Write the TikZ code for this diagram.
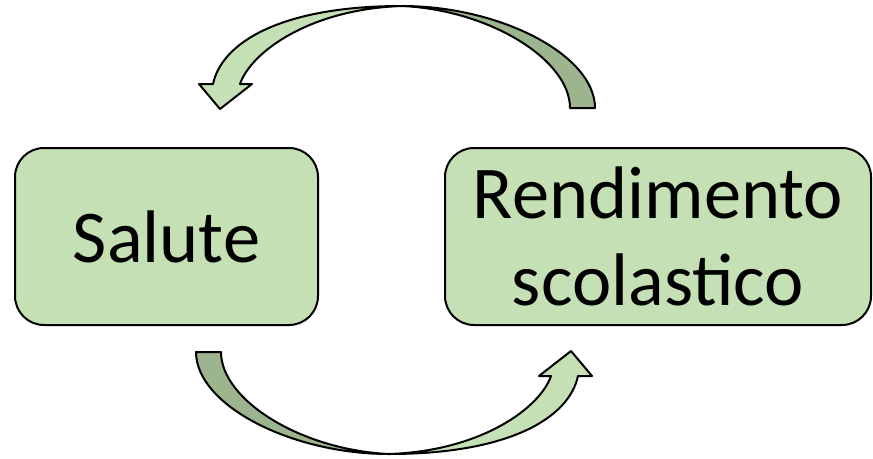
\documentclass[tikz,border=0pt]{standalone}
\usepackage{fontspec}
\setmainfont{Carlito}
\definecolor{boxgreen}{RGB}{197,224,180}
\definecolor{backgreen}{RGB}{157,181,142}
\tikzset{
  box/.style={draw=black,line width=2pt,fill=boxgreen,rounded corners=29pt,minimum height=177pt,align=center,font=\fontsize{74.5}{87}\selectfont},
  front/.style={draw=black,line width=2pt,fill=boxgreen,line join=round},
  back/.style={draw=black,line width=2pt,fill=backgreen,line join=round}
}
% curved arrow, tail on the right, head on the left
\newcommand{\bentarrow}{%
  \draw[back] (402,6) .. controls (500,6) and (595,55) .. (595,108) -- (570,108) .. controls (570,60) and (490,10) .. (402,6) -- cycle; %back side
  \draw[front] (240,84) .. controls (251,52) and (310,9) .. (402,6) .. controls (282,6) and (222,42) .. (213,84) -- (199,84) -- (220,109) -- (252,84) -- cycle; %front side and head
}
\begin{document}
\begin{tikzpicture}[x=1pt,y=-1pt]
	\useasboundingbox (0,0) rectangle (873,458);
	
	%boxes
	\node[box,minimum width=303pt] (salute) at (166.5,236.5) {Salute};
	\node[box,minimum width=426pt] (rendimento) at (658,236.5) {Rendimento\\scolastico};
	
	%arrows
	\bentarrow %top arrow
	\begin{scope}[rotate around={180:(395.5,230)}]
		\bentarrow %bottom arrow
	\end{scope}
\end{tikzpicture}
\end{document}
